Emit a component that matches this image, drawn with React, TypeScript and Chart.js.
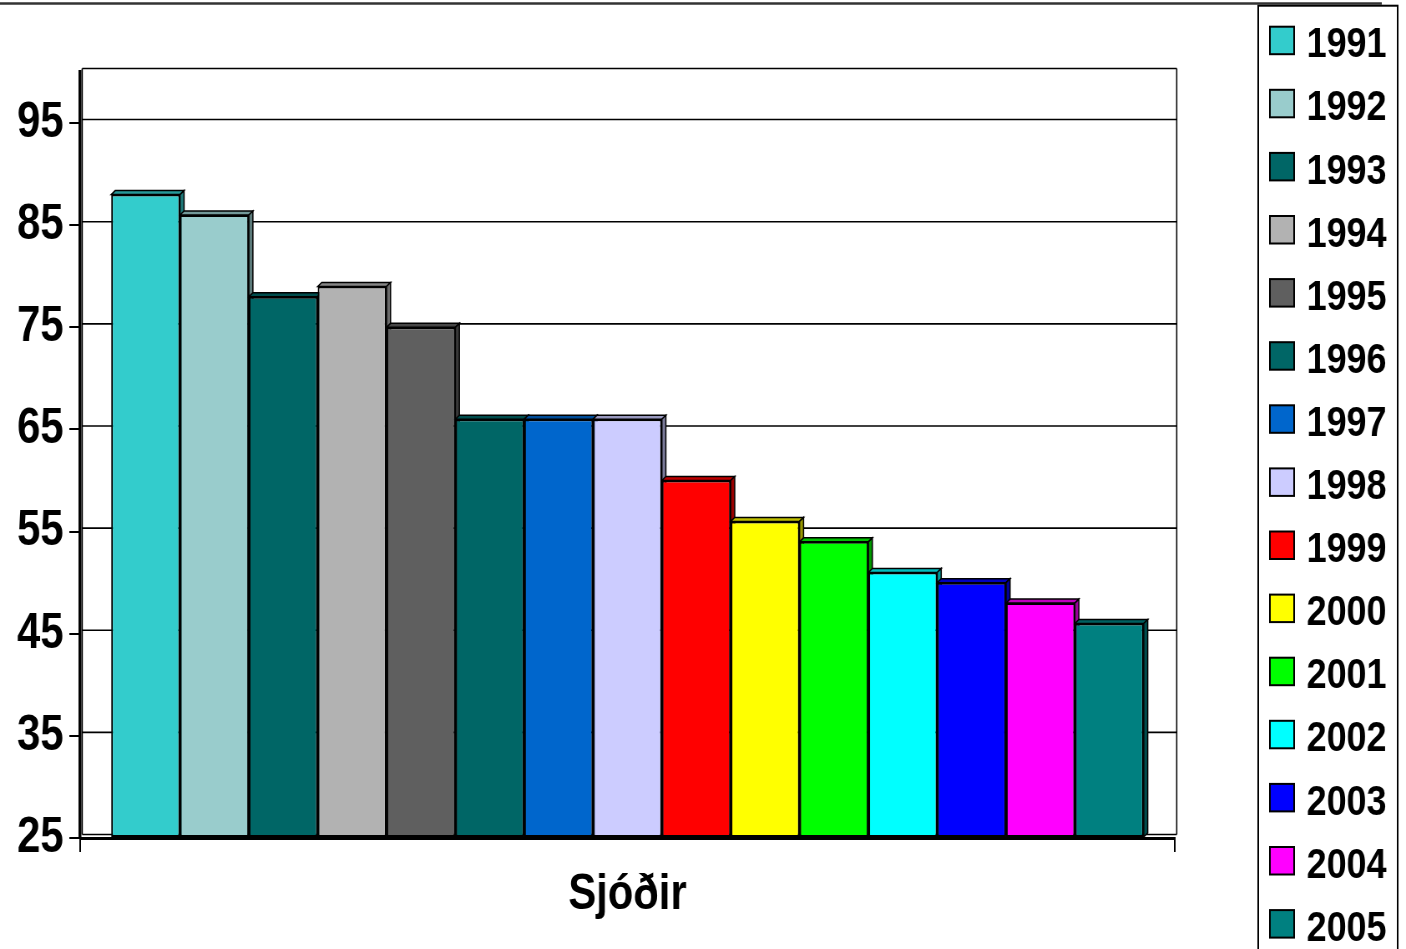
import React, { useEffect, useRef } from 'react';
import { Chart, registerables } from 'chart.js';

Chart.register(...registerables);

// ---- data ----
const CATEGORIES = ['Sjóðir'];
const SERIES_LABELS = ['1991', '1992', '1993', '1994', '1995', '1996', '1997', '1998', '1999', '2000', '2001', '2002', '2003', '2004', '2005'];
const SERIES_VALUES = [88, 86, 78, 79, 75, 66, 66, 66, 60, 56, 54, 51, 50, 48, 46];
const SERIES_COLORS = ['#33CCCC', '#99CCCC', '#006666', '#B2B2B2', '#5F5F5F', '#006666', '#0066CC', '#CCCCFF', '#FF0000', '#FFFF00', '#00FF00', '#00FFFF', '#0000FF', '#FF00FF', '#008080'];
const Y_TICKS = [25, 35, 45, 55, 65, 75, 85, 95];
const Y_MIN = 25;
const Y_MAX = 100;

// ---- layout (virtual canvas px; canvas is squeezed horizontally on screen) ----
const W = 1406;
const H = 949;
const SX = 0.835;
const VW = Math.round(W / SX);
const FONT = '"Liberation Sans", Arial, Helvetica, sans-serif';

const BAR_DX = 4.8;
const BAR_DY = 4;
const WALL_DX = 2.4;
const WALL_DY = 3.5;

function shade(hex: string, f: number): string {
  const n = parseInt(hex.slice(1), 16);
  const r = Math.round(((n >> 16) & 255) * f);
  const g = Math.round(((n >> 8) & 255) * f);
  const b = Math.round((n & 255) * f);
  return `rgb(${r},${g},${b})`;
}

function poly(ctx: CanvasRenderingContext2D, pts: number[][], fill: string) {
  ctx.beginPath();
  ctx.moveTo(pts[0][0], pts[0][1]);
  for (let i = 1; i < pts.length; i++) ctx.lineTo(pts[i][0], pts[i][1]);
  ctx.closePath();
  ctx.fillStyle = fill;
  ctx.fill();
  ctx.stroke();
}

const excelPlugin = {
  id: 'excel3d',
  beforeDraw(chart: any) {
    const ctx = chart.ctx as CanvasRenderingContext2D;
    ctx.save();
    ctx.fillStyle = '#fff';
    ctx.fillRect(0, 0, chart.width, chart.height);
    // outer chart border (top)
    ctx.strokeStyle = '#333';
    ctx.lineWidth = 2.5;
    ctx.beginPath();
    ctx.moveTo(0, 3.5);
    ctx.lineTo(1655, 3.5);
    ctx.stroke();
    ctx.restore();
  },
  beforeDatasetsDraw(chart: any) {
    const ctx = chart.ctx as CanvasRenderingContext2D;
    const ys = chart.scales.y;
    const { left, right, top, bottom } = chart.chartArea;
    ctx.save();
    ctx.strokeStyle = '#000';
    ctx.lineWidth = 1.6;
    // back wall gridlines
    [...Y_TICKS, Y_MAX].forEach((v) => {
      const py = ys.getPixelForValue(v) - WALL_DY;
      ctx.beginPath();
      ctx.moveTo(left + WALL_DX, py);
      ctx.lineTo(right + WALL_DX, py);
      ctx.stroke();
    });
    // back wall side edges
    ctx.beginPath();
    ctx.moveTo(right + WALL_DX, top - WALL_DY);
    ctx.lineTo(right + WALL_DX, bottom - WALL_DY);
    ctx.moveTo(left + WALL_DX, top - WALL_DY);
    ctx.lineTo(left + WALL_DX, bottom - WALL_DY);
    ctx.stroke();
    // bar depth faces
    ctx.lineWidth = 1.5;
    ctx.lineJoin = 'miter';
    chart.data.datasets.forEach((ds: any, i: number) => {
      const meta = chart.getDatasetMeta(i);
      const col = ds.backgroundColor as string;
      meta.data.forEach((bar: any) => {
        const p = bar.getProps(['x', 'y', 'base', 'width'], true);
        const x = p.x;
        const y = p.y;
        const width = p.width;
        const base = Math.min(p.base, bottom);
        const l = x - width / 2;
        const r = x + width / 2;
        poly(ctx, [[l, y], [l + BAR_DX, y - BAR_DY], [r + BAR_DX, y - BAR_DY], [r, y]], shade(col, 0.75));
        poly(ctx, [[r, y], [r + BAR_DX, y - BAR_DY], [r + BAR_DX, base - BAR_DY], [r, base]], shade(col, 0.6));
      });
    });
    ctx.restore();
  },
  afterDraw(chart: any) {
    const ctx = chart.ctx as CanvasRenderingContext2D;
    ctx.save();
    // legend box
    ctx.strokeStyle = '#000';
    ctx.lineWidth = 2;
    ctx.strokeRect(1507, 5.7, 1674 - 1507, 1000);
    ctx.font = `bold 43px ${FONT}`;
    ctx.textBaseline = 'alphabetic';
    ctx.textAlign = 'left';
    chart.data.datasets.forEach((ds: any, i: number) => {
      const yTop = 26.7 + i * 63.1;
      ctx.fillStyle = ds.backgroundColor;
      ctx.fillRect(1521, yTop, 29, 27.5);
      ctx.lineWidth = 2;
      ctx.strokeStyle = '#000';
      ctx.strokeRect(1521, yTop, 29, 27.5);
      ctx.fillStyle = '#000';
      ctx.fillText(ds.label, 1565, yTop + 30.6);
    });
    ctx.restore();
  },
};

export default function App() {
  const canvasRef = useRef<HTMLCanvasElement | null>(null);

  useEffect(() => {
    if (!canvasRef.current) return;
    const chart = new Chart(canvasRef.current, {
      type: 'bar',
      data: {
        labels: CATEGORIES,
        datasets: SERIES_LABELS.map((label, i) => ({
          label,
          data: [SERIES_VALUES[i]],
          base: Y_MIN,
          backgroundColor: SERIES_COLORS[i],
          borderColor: '#000',
          borderWidth: 2,
          borderSkipped: false,
          barPercentage: 1,
          categoryPercentage: 0.9433,
        })),
      },
      options: {
        responsive: false,
        maintainAspectRatio: false,
        devicePixelRatio: 1,
        animation: false,
        layout: { padding: { top: 72, right: VW - 1407, bottom: 0, left: 0 } },
        plugins: {
          legend: { display: false },
          tooltip: { enabled: false },
          title: { display: false },
        },
        scales: {
          x: {
            type: 'category',
            offset: true,
            grid: {
              display: true,
              drawOnChartArea: false,
              drawTicks: true,
              tickLength: 14,
              color: '#000',
              lineWidth: 2,
              offset: true,
            },
            border: { display: true, color: '#000', width: 3 },
            ticks: {
              color: '#000',
              padding: 13,
              font: { family: FONT, size: 50, weight: 'bold' },
              maxRotation: 0,
            },
            afterFit: (s: any) => {
              s.height = H - 838;
            },
          },
          y: {
            min: Y_MIN,
            max: Y_MAX,
            grid: {
              display: true,
              drawOnChartArea: false,
              drawTicks: true,
              tickLength: 13,
              color: '#000',
              tickColor: '#000',
              lineWidth: 2,
            },
            border: { display: true, color: '#000', width: 3.5 },
            ticks: {
              color: '#000',
              padding: 7,
              font: { family: FONT, size: 50, weight: 'bold' },
            },
            afterBuildTicks: (s: any) => {
              s.ticks = Y_TICKS.map((value) => ({ value }));
            },
            afterFit: (s: any) => {
              s.width = 96;
            },
          },
        },
      },
      plugins: [excelPlugin],
    } as any);
    return () => chart.destroy();
  }, []);

  return (
    <div style={{ position: 'fixed', left: 0, top: 0, width: W, height: H, overflow: 'hidden', background: '#fff' }}>
      <canvas
        ref={canvasRef}
        width={VW}
        height={H}
        style={{ width: `${W}px`, height: `${H}px`, display: 'block' }}
      />
    </div>
  );
}
